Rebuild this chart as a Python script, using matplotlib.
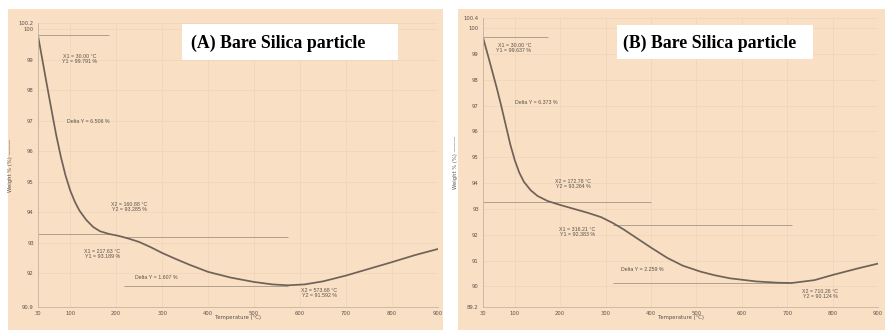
import matplotlib.pyplot as plt
from matplotlib.patches import Rectangle

# TGA curves (temperature in C, weight in %)
temp_a = [30, 40, 50, 60, 70, 80, 90, 100, 110, 120, 135, 150, 165, 185, 205, 225, 250,
          275, 300, 330, 360, 400, 450, 500, 540, 573.68, 610, 650, 700, 750, 800, 850, 900]
wt_a = [99.79, 98.95, 98.12, 97.3, 96.5, 95.8, 95.2, 94.72, 94.35, 94.06, 93.75, 93.52,
        93.38, 93.29, 93.23, 93.15, 93.03, 92.86, 92.67, 92.47, 92.28, 92.05, 91.86, 91.72,
        91.64, 91.61, 91.64, 91.74, 91.93, 92.15, 92.37, 92.6, 92.8]

temp_b = [30, 40, 50, 60, 70, 80, 90, 100, 110, 120, 135, 150, 172.78, 200, 230, 260, 290,
          316.21, 340, 370, 400, 436, 470, 509, 540, 574, 632, 680, 710.26, 760, 800, 857, 900]
wt_b = [99.637, 99.0, 98.35, 97.7, 97.0, 96.25, 95.5, 94.88, 94.4, 94.05, 93.72, 93.5,
        93.3, 93.15, 93.0, 92.85, 92.68, 92.45, 92.2, 91.85, 91.5, 91.1, 90.8, 90.57, 90.43,
        90.31, 90.19, 90.14, 90.13, 90.24, 90.44, 90.7, 90.88]

xticks = [30, 100, 200, 300, 400, 500, 600, 700, 800, 900]
yticks_a = [90.9, 92, 93, 94, 95, 96, 97, 98, 99, 100, 100.2]
yticks_b = [89.2, 90, 91, 92, 93, 94, 95, 96, 97, 98, 99, 100, 100.4]

titles = ["(A) Bare Silica particle", "(B) Bare Silica particle"]

# evaluation lines: (y level, x start, x end)
lines_a = [(99.791, 30, 185), (93.285, 30, 185), (93.189, 217.63, 573.68),
           (91.592, 217.63, 573.68)]
lines_b = [(99.637, 30, 172.78), (93.264, 30, 400), (92.383, 316.21, 710.26),
           (90.124, 316.21, 710.26)]

# annotation texts: (x, y, text, horizontal alignment)
notes_a = [(158, 99.02, "X1 = 30.00 °C\nY1 = 99.791 %", "right"),
           (93, 96.96, "Delta Y = 6.506 %", "left"),
           (267, 94.17, "X2 = 160.88 °C\nY2 = 93.285 %", "right"),
           (208, 92.64, "X1 = 217.63 °C\nY1 = 93.189 %", "right"),
           (241, 91.85, "Delta Y = 1.607 %", "left"),
           (680, 91.36, "X2 = 573.68 °C\nY2 = 91.592 %", "right")]
notes_b = [(136, 99.23, "X1 = 30.00 °C\nY1 = 99.637 %", "right"),
           (100, 97.1, "Delta Y = 6.373 %", "left"),
           (267, 93.96, "X2 = 172.78 °C\nY2 = 93.264 %", "right"),
           (278, 92.1, "X1 = 316.21 °C\nY1 = 92.383 %", "right"),
           (334, 90.67, "Delta Y = 2.259 %", "left"),
           (812, 89.7, "X2 = 710.26 °C\nY2 = 90.124 %", "right")]

peach = "#f9dfc3"
curve_col = "#6e6259"
grid_col = "#f0d6ba"
line_col = "#a39585"
text_col = "#5a524c"

fig = plt.figure(figsize=(8.85, 3.31), dpi=100)
fig.patch.set_facecolor("white")

# peach panels behind the plots
W, H = 885, 331
fig.patches.append(Rectangle((8 / W, 1 - 330 / H), 435 / W, 321 / H, transform=fig.transFigure,
                             facecolor=peach, edgecolor="none", zorder=-2))
fig.patches.append(Rectangle((458 / W, 1 - 330 / H), 427 / W, 321 / H, transform=fig.transFigure,
                             facecolor=peach, edgecolor="none", zorder=-2))

ax_a = fig.add_axes([38 / W, 1 - 307 / H, 400 / W, 284 / H])
ax_b = fig.add_axes([483 / W, 1 - 307 / H, 395 / W, 289.3 / H])


def draw_panel(ax, temp, wt, yticks, lines, notes):
    ax.set_zorder(1)
    ax.set_facecolor("none")
    ax.set_xlim(30, 900)
    ax.set_ylim(yticks[0], yticks[-1])
    ax.set_xticks(xticks)
    ax.set_yticks(yticks)
    ax.set_xticklabels([str(t) for t in xticks])
    ax.set_yticklabels([("%g" % t) for t in yticks])
    ax.tick_params(labelsize=3.8, colors=text_col, length=0, pad=3)
    ax.grid(True, color=grid_col, linewidth=0.6)
    for s in ["top", "right"]:
        ax.spines[s].set_visible(False)
    for s in ["left", "bottom"]:
        ax.spines[s].set_color("#c9b39c")
        ax.spines[s].set_linewidth(0.6)
    for yv, x0, x1 in lines:
        ax.hlines(yv, x0, x1, color=line_col, linewidth=0.6)
    ax.plot(temp, wt, color=curve_col, linewidth=1.25)
    for x, y, t, ha in notes:
        ax.text(x, y, t, fontsize=3.8, color=text_col, ha=ha, va="center",
                linespacing=0.9, family="Liberation Sans")
    ax.set_xlabel("Temperature (°C)", fontsize=3.8, color=text_col, labelpad=-1)
    ax.set_ylabel("Weight % (%) ———", fontsize=3.8, color=text_col, labelpad=4)


draw_panel(ax_a, temp_a, wt_a, yticks_a, lines_a, notes_a)
draw_panel(ax_b, temp_b, wt_b, yticks_b, lines_b, notes_b)

# white title boxes
fig.patches.append(Rectangle((182 / W, 1 - 60 / H), 216 / W, 36 / H, transform=fig.transFigure,
                             facecolor="white", edgecolor="none", zorder=5))
fig.patches.append(Rectangle((617 / W, 1 - 59 / H), 196 / W, 34 / H, transform=fig.transFigure,
                             facecolor="white", edgecolor="none", zorder=5))
fig.text(191 / W, 1 - 43 / H, titles[0], fontsize=12.8, fontweight="bold",
         family="Liberation Serif", va="center", zorder=6)
fig.text(623 / W, 1 - 43 / H, titles[1], fontsize=12.8, fontweight="bold",
         family="Liberation Serif", va="center", zorder=6)

fig.savefig("out.png", dpi=100, facecolor="white")
